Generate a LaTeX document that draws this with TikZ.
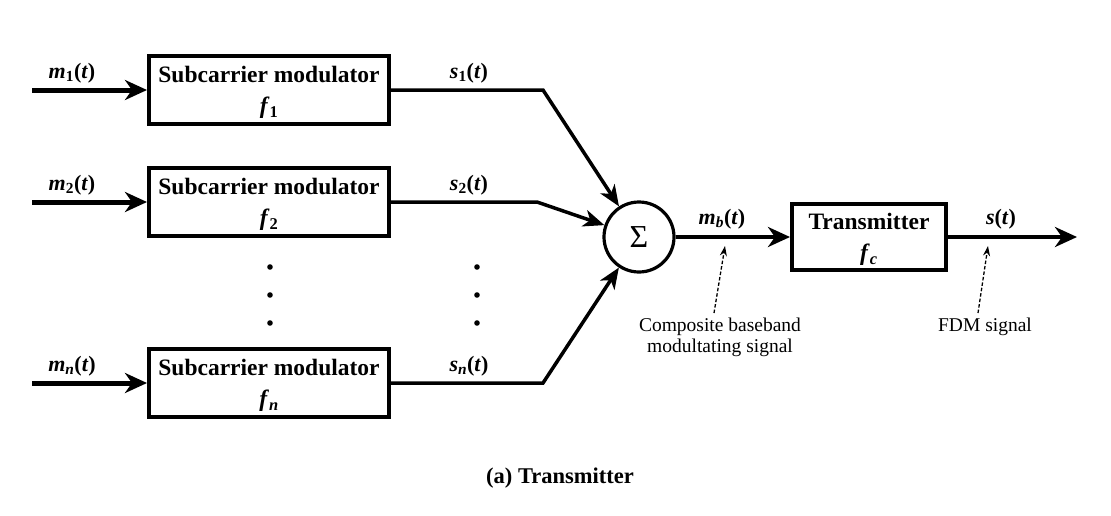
\documentclass[tikz,border=0pt]{standalone}
\usepackage{fontspec}
\setmainfont{Liberation Serif}
\usetikzlibrary{arrows.meta,calc}
\newcommand{\bi}[1]{\textbf{\textit{#1}}}
\newcommand{\sigl}[2]{\bi{#1}\textsubscript{\textbf{#2}}\textbf{(}\bi{t}\textbf{)}}
\begin{document}
\begin{tikzpicture}[x=1pt,y=-1pt,
  blk/.style={draw, line width=4pt, inner sep=0pt, align=center,
    font=\fontsize{23.5}{31.5}\selectfont\bfseries},
  subblk/.style={blk, minimum width=240pt, minimum height=68pt},
  sumc/.style={draw, circle, line width=3.2pt, minimum size=70pt, inner sep=0pt,
    font=\fontsize{32}{32}\selectfont},
  lbl/.style={anchor=base, inner sep=0pt, font=\fontsize{22}{26}\selectfont},
  note/.style={anchor=north, inner sep=0pt, align=center,
    font=\fontsize{19.5}{21}\selectfont},
  inarrow/.style={line width=5pt, -{Stealth[length=22pt,width=20pt,inset=7pt]}},
  sline/.style={line width=3.5pt, line join=miter, -{Stealth[length=21pt,width=17pt,inset=6pt]}},
  mainarrow/.style={line width=4.5pt, -{Stealth[length=22pt,width=20pt,inset=7pt]}},
  dasharrow/.style={line width=1.3pt, dash pattern=on 3.5pt off 2pt, -{Stealth[length=10pt,width=7pt]}}
]
\useasboundingbox (0,0) rectangle (1111,515);
\fill[white] (0,0) rectangle (1111,515);

% subcarrier modulators
\node[subblk] (b1) at (269,90) {\rule{0pt}{21pt}Subcarrier modulator\\\bi{f}\textsubscript{1}};
\node[subblk] (b2) at (269,202) {\rule{0pt}{21pt}Subcarrier modulator\\\bi{f}\textsubscript{2}};
\node[subblk] (bn) at (269,383) {\rule{0pt}{21pt}Subcarrier modulator\\\bi{f}\textsubscript{\bi{n}}};

% summer and transmitter
\node[sumc] (sum) at (639,237) {Σ};
\node[blk, minimum width=154pt, minimum height=66pt] (tx) at (869,237) {\rule{0pt}{21pt}Transmitter\\\bi{f}\textsubscript{\bi{c}}};

% inputs
\coordinate (i1) at (32,90);
\coordinate (i2) at (32,202);
\coordinate (in) at (32,383);
\draw[inarrow] (i1) -- (b1.west);
\draw[inarrow] (i2) -- (b2.west);
\draw[inarrow] (in) -- (bn.west);
\node[lbl] (lm1) at (72,78) {\sigl{m}{1}};
\node[lbl] (lm2) at (72,190) {\sigl{m}{2}};
\node[lbl] (lmn) at (72,371) {\bi{m}\textsubscript{\bi{n}}\textbf{(}\bi{t}\textbf{)}};

% outputs to summer
\coordinate (k1) at (543,90);
\coordinate (k2) at (537,202);
\coordinate (kn) at (543,383);
\draw[sline] (b1.east) -- (k1) -- (sum);
\draw[sline] (b2.east) -- (k2) -- (sum);
\draw[sline] (bn.east) -- (kn) -- (sum);
\node[lbl] (ls1) at (469,78) {\sigl{s}{1}};
\node[lbl] (ls2) at (469,190) {\sigl{s}{2}};
\node[lbl] (lsn) at (469,371) {\bi{s}\textsubscript{\bi{n}}\textbf{(}\bi{t}\textbf{)}};

% dots
\foreach \yy in {267,295,323} {
  \fill (270,\yy) circle (2.8pt);
  \fill (477,\yy) circle (2.8pt);
}

% main chain
\coordinate (out) at (1077,237);
\draw[mainarrow] (sum.east) -- (tx.west);
\draw[mainarrow] (tx.east) -- (out);
\node[lbl] (lmb) at (722,224) {\bi{m}\textsubscript{\bi{b}}\textbf{(}\bi{t}\textbf{)}};
\node[lbl] (lst) at (1001,224) {\bi{s}\textbf{(}\bi{t}\textbf{)}};

% annotations
\node[note] (comp) at (720,318) {Composite baseband\\modultating signal};
\node[note] (fdm) at (985,318) {FDM signal};
\coordinate (d1a) at (714,313);
\coordinate (d1b) at (725,246);
\coordinate (d2a) at (978,313);
\coordinate (d2b) at (988,246);
\draw[dasharrow] (d1a) -- (d1b);
\draw[dasharrow] (d2a) -- (d2b);

% caption
\node[anchor=base, inner sep=0pt, font=\fontsize{22.5}{27}\selectfont\bfseries] (cap) at (560,483) {(a) Transmitter};
\end{tikzpicture}
\end{document}
